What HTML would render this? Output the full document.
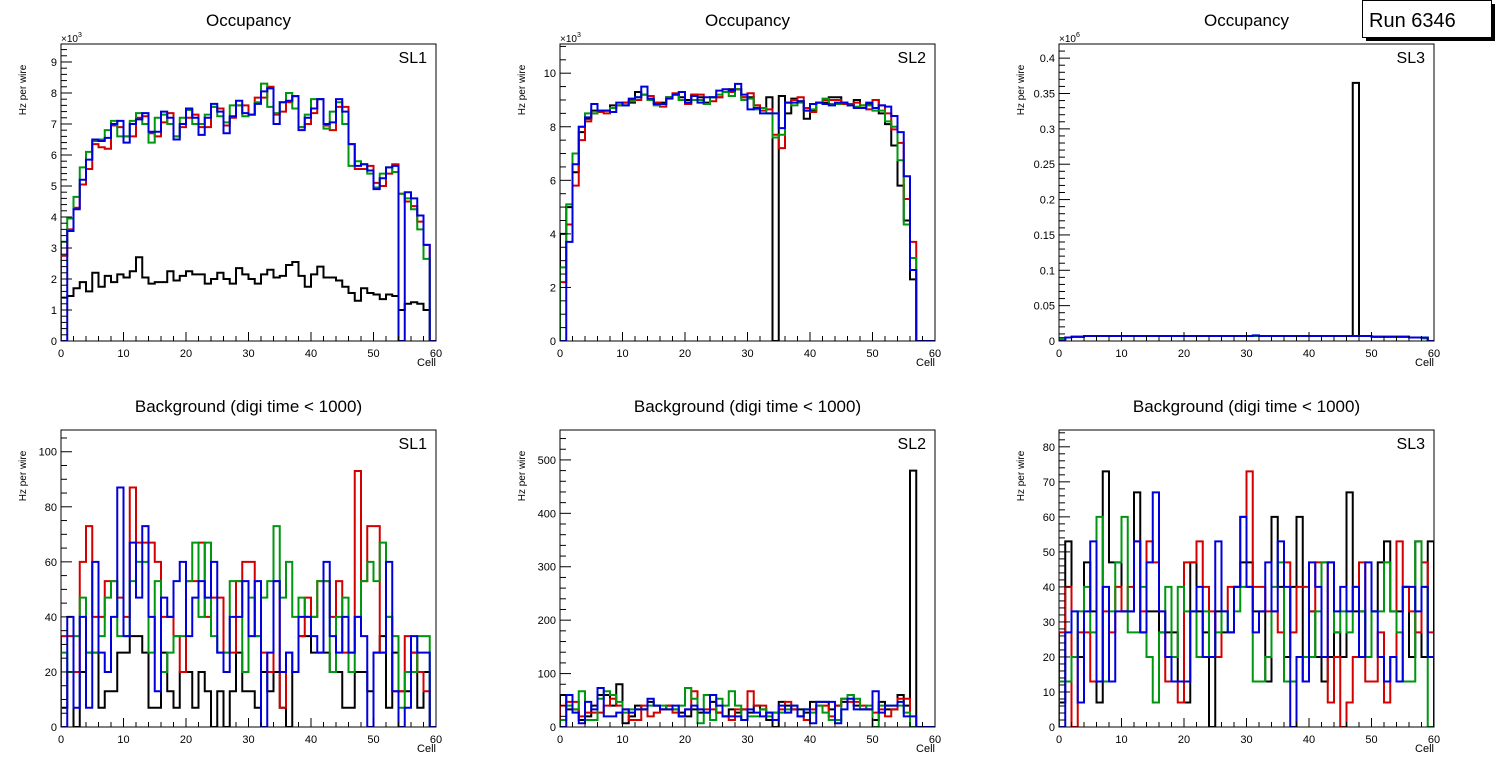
<!DOCTYPE html>
<html><head><meta charset="utf-8"><style>
html,body{margin:0;padding:0;background:#fff;}
svg{display:block;font-family:"Liberation Sans",Arial,sans-serif;}
</style></head><body>
<svg id="c" width="1496" height="772" viewBox="0 0 1496 772"></svg>
<script>
// ---------- data (bin contents, 60 cells) ----------
const cells = 60;
// Occupancy SL1 (x10^3)
const occSL1Black = [1.4,1.45,1.7,1.9,1.6,2.2,1.75,2.1,1.9,2.15,2.05,2.25,2.7,2.05,1.85,1.9,1.9,2.25,1.95,2.1,2.25,2.15,2.15,1.85,2.0,2.2,2.0,1.85,2.35,2.15,2.0,1.85,2.15,2.3,2.05,2.1,2.45,2.55,2.1,1.75,2.15,2.4,2.05,2.05,1.95,1.75,1.55,1.3,1.7,1.55,1.5,1.35,1.5,1.45,1.0,1.2,1.25,1.2,1.0,0];
const occSL1Red = [2.75,3.6,4.3,5.05,5.55,6.35,6.25,6.2,6.95,6.9,6.6,6.6,7.2,7.25,6.7,6.6,7.05,7.35,6.6,6.9,7.2,7.3,6.9,6.9,7.55,7.5,6.95,7.2,7.6,7.6,7.3,7.85,7.85,8.2,7.3,7.4,7.7,7.9,6.9,7.0,7.35,7.8,6.95,6.8,7.55,7.55,6.35,5.55,5.55,5.65,5.1,5.0,5.4,5.7,4.75,4.5,4.35,3.85,3.1,0];
const occSL1Green = [3.2,3.95,4.65,5.6,6.1,6.45,6.5,6.8,7.1,6.6,6.6,7.1,7.35,7.0,6.4,7.2,7.3,7.0,6.6,7.2,7.45,7.0,7.0,7.3,7.55,7.25,7.05,7.6,7.6,7.25,7.3,7.7,8.3,7.55,7.35,7.7,8.0,7.5,6.9,7.3,7.8,7.8,6.85,7.4,7.7,7.0,5.65,5.8,5.7,5.4,4.95,5.4,5.6,5.45,4.75,4.6,4.25,3.6,2.65,0];
const occSL1Blue = [0,3.55,4.25,5.2,5.85,6.5,6.45,6.55,7.0,7.1,6.4,7.0,7.15,7.35,6.75,6.75,7.4,7.2,6.5,7.0,7.5,7.2,6.65,7.2,7.65,7.4,6.7,7.25,7.75,7.35,7.3,7.65,8.05,8.15,7.0,7.7,7.75,7.9,6.8,7.2,7.5,7.8,7.0,7.05,7.8,7.4,6.35,5.65,5.7,5.5,4.9,5.25,5.6,5.65,0,4.8,4.6,4.05,3.1,0];
// Occupancy SL2 (x10^3)
const occSL2Black = [4.0,5.0,6.3,7.8,8.3,8.6,8.6,8.6,8.8,8.8,8.9,8.9,9.3,9.2,9.0,8.9,8.9,9.1,9.2,9.1,9.0,9.2,9.1,8.9,9.1,9.1,9.3,9.4,9.4,9.1,9.1,8.8,8.7,9.1,0,9.15,8.5,9.05,8.95,8.3,8.6,8.9,8.9,9.1,9.1,8.9,8.85,9.0,8.8,8.85,9.0,8.5,8.1,7.3,5.8,4.5,2.3,0,0,0];
const occSL2Red = [2.2,4.35,5.8,7.5,8.2,8.5,8.55,8.5,8.7,8.8,8.9,9.0,9.0,9.2,9.15,8.9,8.75,9.1,9.25,9.0,8.85,9.2,9.2,8.85,8.95,9.1,9.3,9.3,9.4,9.1,9.25,8.8,8.6,8.65,7.7,7.2,8.9,9.0,9.1,8.7,8.55,8.9,9.0,9.0,9.0,8.85,8.85,8.9,8.7,8.65,9.0,8.8,8.5,7.9,7.4,5.3,3.7,0,0,0];
const occSL2Green = [2.75,5.1,7.0,8.0,8.5,8.5,8.6,8.6,8.7,8.8,8.8,8.95,9.1,9.2,9.0,8.8,8.85,9.1,9.2,9.0,8.9,9.0,9.0,8.85,9.1,9.2,9.3,9.15,9.4,9.0,9.05,8.65,8.7,8.5,7.6,7.7,8.9,8.8,8.9,8.6,8.65,8.9,9.05,8.85,8.85,8.9,8.8,8.75,8.8,8.8,8.6,8.6,8.2,8.0,6.75,4.35,3.1,0,0,0];
const occSL2Blue = [0,3.7,6.6,8.0,8.35,8.85,8.6,8.6,8.55,8.9,8.8,9.05,9.1,9.5,9.05,8.85,8.85,9.05,9.2,9.3,8.9,9.15,8.9,9.1,9.1,9.35,9.4,9.35,9.6,9.2,8.65,8.7,8.5,8.5,8.5,7.95,8.9,8.9,8.95,8.6,8.85,8.9,8.85,8.8,8.9,8.9,8.8,8.7,8.7,8.9,8.7,8.8,8.75,8.4,7.8,6.15,2.65,0,0,0];
// Occupancy SL3 (x10^6)
const occSL3Black = [0.004,0.005,0.006,0.006,0.007,0.007,0.007,0.007,0.007,0.007,0.007,0.007,0.007,0.007,0.007,0.007,0.007,0.007,0.007,0.007,0.007,0.007,0.007,0.007,0.007,0.007,0.007,0.007,0.007,0.007,0.007,0.007,0.007,0.007,0.007,0.007,0.007,0.007,0.007,0.007,0.007,0.007,0.007,0.007,0.007,0.007,0.007,0.365,0.007,0.007,0.006,0.006,0.006,0.006,0.006,0.006,0.005,0.005,0.004,0];
const occSL3Red = [0.003,0.005,0.006,0.006,0.007,0.007,0.007,0.007,0.007,0.007,0.007,0.007,0.007,0.007,0.007,0.007,0.007,0.007,0.007,0.007,0.007,0.007,0.007,0.007,0.007,0.007,0.007,0.007,0.007,0.007,0.007,0.007,0.007,0.007,0.007,0.007,0.007,0.007,0.007,0.007,0.007,0.007,0.007,0.007,0.007,0.007,0.007,0.007,0.007,0.007,0.006,0.006,0.006,0.006,0.006,0.006,0.005,0.005,0.004,0];
const occSL3Green = [0.003,0.005,0.006,0.006,0.007,0.007,0.007,0.007,0.007,0.007,0.007,0.007,0.007,0.007,0.007,0.007,0.007,0.007,0.007,0.007,0.007,0.007,0.007,0.007,0.007,0.007,0.007,0.007,0.007,0.007,0.007,0.007,0.007,0.007,0.007,0.007,0.007,0.007,0.007,0.007,0.007,0.007,0.007,0.007,0.007,0.007,0.007,0.007,0.007,0.007,0.006,0.006,0.006,0.006,0.006,0.006,0.005,0.005,0.004,0];
const occSL3Blue = [0,0.005,0.006,0.006,0.007,0.007,0.007,0.007,0.007,0.007,0.007,0.007,0.007,0.007,0.007,0.007,0.007,0.007,0.007,0.007,0.007,0.007,0.007,0.007,0.007,0.007,0.007,0.007,0.007,0.007,0.007,0.008,0.007,0.007,0.007,0.007,0.007,0.007,0.007,0.007,0.007,0.007,0.007,0.007,0.007,0.007,0.007,0.007,0.007,0.007,0.006,0.006,0.006,0.006,0.006,0.006,0.005,0.005,0.005,0];
// Background SL1 (Hz)
const bkgSL1Black = [7,20,0,20,27,27,7,13,13,27,27,33,33,27,7,7,27,13,7,20,20,7,20,13,0,13,0,13,27,13,13,7,20,13,20,7,0,20,33,33,27,27,27,20,20,7,7,20,20,13,27,33,7,27,13,13,27,7,20,0];
const bkgSL1Red = [33,33,20,60,73,40,40,53,53,47,40,87,67,67,67,60,40,40,33,20,53,53,67,40,47,47,27,27,53,60,60,33,27,20,53,7,27,20,33,47,40,53,53,40,53,27,27,93,53,73,73,27,40,13,13,33,27,20,13,0];
const bkgSL1Green = [27,20,33,47,27,27,33,47,53,33,33,53,60,60,27,53,20,27,33,33,53,67,40,67,33,27,27,53,53,20,47,33,47,53,73,47,60,40,47,40,40,53,53,20,40,47,20,40,53,60,53,67,40,33,7,20,20,33,33,0];
const bkgSL1Blue = [0,40,7,40,7,60,27,20,40,87,33,67,47,73,40,13,47,40,53,60,33,47,53,47,60,27,20,40,40,53,33,53,0,27,53,20,27,20,40,40,33,27,60,33,27,40,27,40,33,0,27,27,60,13,0,7,33,27,27,0];
// Background SL2 (Hz)
const bkgSL2Black = [60,33,33,13,20,40,60,60,40,80,7,20,40,33,47,40,33,40,33,27,20,33,27,27,47,27,20,33,27,33,27,40,33,13,0,47,40,33,33,27,47,47,47,33,40,47,60,40,33,33,13,47,33,33,60,40,480,0,0,0];
const bkgSL2Red = [40,47,47,20,27,27,27,40,53,40,33,13,13,40,20,27,33,40,27,20,33,67,33,33,33,27,20,13,33,33,67,40,40,27,27,33,47,33,20,13,33,40,40,20,40,53,47,47,40,33,27,33,20,33,53,53,0,0,0,0];
const bkgSL2Green = [13,40,33,67,13,13,53,67,60,47,27,33,33,33,40,40,40,33,33,40,73,53,7,60,13,53,40,67,40,13,20,20,33,20,27,27,33,40,20,33,27,40,27,13,13,53,60,53,33,40,0,40,40,40,40,27,0,0,0,0];
const bkgSL2Blue = [0,60,27,7,47,33,73,20,20,27,33,27,33,33,53,40,33,33,40,20,33,40,33,27,60,40,20,20,20,13,33,27,20,27,13,40,27,40,20,33,7,47,47,47,7,33,53,33,33,33,67,27,40,40,47,20,20,0,0,0];
// Background SL3 (Hz)
const bkgSL3Black = [7,53,20,20,47,33,7,73,47,47,33,33,67,27,33,33,27,27,27,13,7,47,33,27,0,33,27,27,40,47,47,33,33,13,60,40,20,40,60,13,33,20,13,20,27,20,67,33,33,20,33,47,53,33,33,40,20,53,20,53];
const bkgSL3Red = [27,40,0,27,27,13,13,33,27,40,33,40,53,33,53,47,33,13,13,7,47,47,53,40,33,20,33,40,40,60,73,40,40,33,33,27,47,27,40,40,33,47,47,7,20,0,7,20,47,13,13,27,7,20,53,40,33,27,47,27];
const bkgSL3Green = [13,13,20,33,40,27,60,13,33,47,60,27,27,40,20,7,27,40,20,40,33,33,20,33,20,27,33,27,33,40,40,13,13,20,40,47,13,13,20,20,20,33,47,47,27,33,27,40,33,20,33,33,47,33,27,13,13,53,40,0];
const bkgSL3Blue = [0,27,33,7,33,53,13,40,13,33,33,33,53,27,47,67,33,20,13,13,13,33,40,20,20,53,33,27,40,60,40,27,33,47,33,53,40,0,20,13,47,40,20,47,33,40,33,40,20,47,33,20,13,20,13,40,40,33,40,20];
const xTicks = [0,10,20,30,40,50,60];
const colors = ["#000000","#d40000","#00960f","#0000dc"];

// ---------- drawing ----------
const NS = "http://www.w3.org/2000/svg";
const svg = document.getElementById("c");
function mk(tag, attrs, parent){ const e=document.createElementNS(NS,tag); for(const k in attrs) e.setAttribute(k,attrs[k]); (parent||svg).appendChild(e); return e; }
function fmt(v,dec){ return dec? v.toFixed(dec).replace(/\.?0+$/,'') : String(Math.round(v)); }

const panels = [
 {id:"occ-sl1", L:61,T:44,R:436,B:341, ymax:9.58, major:1, minor:0.2, dec:0, exp:"3", title:"Occupancy", sl:"SL1", series:[occSL1Black,occSL1Red,occSL1Green,occSL1Blue]},
 {id:"occ-sl2", L:560,T:44,R:935,B:341, ymax:11.09, major:2, minor:0.5, dec:0, exp:"3", title:"Occupancy", sl:"SL2", series:[occSL2Black,occSL2Red,occSL2Green,occSL2Blue]},
 {id:"occ-sl3", L:1059,T:44,R:1434,B:341, ymax:0.42, major:0.05, minor:0.01, dec:2, exp:"6", title:"Occupancy", sl:"SL3", series:[occSL3Black,occSL3Red,occSL3Green,occSL3Blue]},
 {id:"bkg-sl1", L:61,T:430,R:436,B:727, ymax:107.9, major:20, minor:5, dec:0, exp:null, title:"Background (digi time < 1000)", sl:"SL1", series:[bkgSL1Black,bkgSL1Red,bkgSL1Green,bkgSL1Blue]},
 {id:"bkg-sl2", L:560,T:430,R:935,B:727, ymax:556, major:100, minor:20, dec:0, exp:null, title:"Background (digi time < 1000)", sl:"SL2", series:[bkgSL2Black,bkgSL2Red,bkgSL2Green,bkgSL2Blue]},
 {id:"bkg-sl3", L:1059,T:430,R:1434,B:727, ymax:84.8, major:10, minor:2, dec:0, exp:null, title:"Background (digi time < 1000)", sl:"SL3", series:[bkgSL3Black,bkgSL3Red,bkgSL3Green,bkgSL3Blue]}
];

panels.forEach((p,pi)=>{
  const g = mk("g",{});
  
  
  const xs = v => p.L + (p.R-p.L)*v/cells;
  const ys = v => p.B - (p.B-p.T)*Math.min(v,p.ymax)/p.ymax;
  const cx=(p.L+p.R)/2;
  const t = mk("text",{x:cx,y:p.T-18,"text-anchor":"middle","font-size":"17"},g);
  t.textContent=p.title;
  
  
  const cid="clip"+pi;
  const cp=mk("clipPath",{id:cid},g); mk("rect",{x:p.L,y:p.T,width:p.R-p.L,height:p.B-p.T},cp);
  p.series.forEach((arr,si)=>{
    let d="M"+xs(0)+","+ys(0);
    arr.forEach((v,i)=>{ d+=" L"+xs(i)+","+ys(v)+" L"+xs(i+1)+","+ys(v); });
    d+=" L"+xs(cells)+","+ys(0);
    const path=mk("path",{d:d,fill:"none",stroke:colors[si],"stroke-width":"2","clip-path":"url(#"+cid+")"},g);
    
    
  });
  const fr=mk("rect",{x:p.L,y:p.T,width:p.R-p.L,height:p.B-p.T,fill:"none",stroke:"#000","stroke-width":"1"},g);
  
  
  for(let v=0; v<=cells; v+=2){
    const isMaj = v%10===0;
    mk("line",{x1:xs(v),x2:xs(v),y1:p.B,y2:p.B-(isMaj?9:5),stroke:"#000","stroke-width":"1"},g);
  }
  xTicks.forEach(v=>{
    const tl=mk("text",{x:xs(v),y:p.B+16,"text-anchor":"middle","font-size":"11"},g);
    tl.textContent=v;
    
    
  });
  const xl=mk("text",{x:p.R,y:p.B+25,"text-anchor":"end","font-size":"11"},g);
  xl.textContent="Cell";
  
  
  const nMin=Math.floor(p.ymax/p.minor+1e-6);
  for(let k=0;k<=nMin;k++){
    const v=k*p.minor;
    const isMaj = Math.abs(v/p.major-Math.round(v/p.major))<1e-6;
    mk("line",{x1:p.L,x2:p.L+(isMaj?11:6),y1:ys(v),y2:ys(v),stroke:"#000","stroke-width":"1"},g);
    if(isMaj){
      const yl=mk("text",{x:p.L-4,y:ys(v)+4,"text-anchor":"end","font-size":"11"},g);
      yl.textContent=fmt(v,p.dec);
      
      
    }
  }
  if(p.exp){
    const ex=mk("text",{x:p.L,y:p.T-2,"font-size":"10"},g);
    ex.textContent="×10";
    
    
    const sp=mk("tspan",{dy:"-5","font-size":"7"},ex); sp.textContent=p.exp;
  }
  const yt=mk("text",{transform:"translate("+(p.L-35)+","+(p.T+46)+") rotate(-90)","text-anchor":"middle","font-size":"10"},g);
  yt.textContent="Hz per wire";
  
  
  const sl=mk("text",{x:p.R-9,y:p.T+19,"text-anchor":"end","font-size":"16"},g);
  sl.textContent=p.sl;
  
  
});

const rb=mk("g",{});


mk("rect",{x:1366,y:37,width:129,height:4,fill:"#000"},rb);
mk("rect",{x:1491,y:4,width:4,height:37,fill:"#000"},rb);
mk("rect",{x:1362.5,y:0.5,width:129,height:37,fill:"#fff",stroke:"#000","stroke-width":"1"},rb);
const rt=mk("text",{x:1369,y:27,"font-size":"20"},rb);
rt.textContent="Run 6346";
</script>
</body></html>
